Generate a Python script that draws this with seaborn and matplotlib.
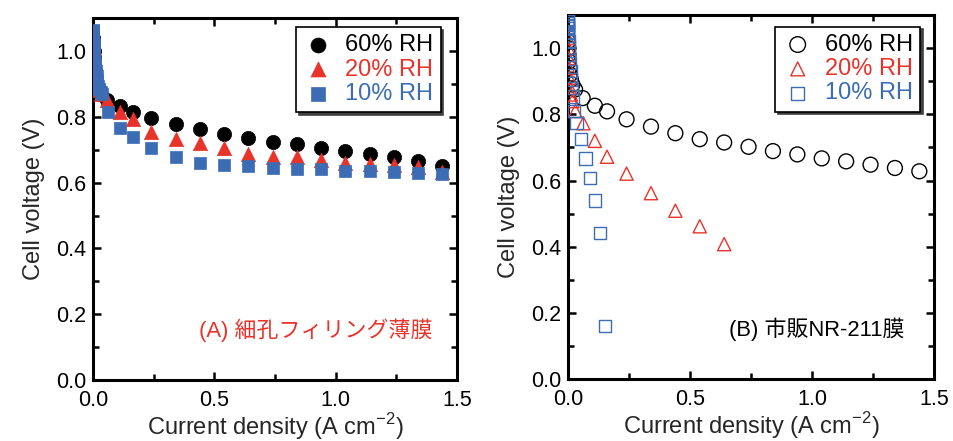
import numpy as np
import pandas as pd
import matplotlib
matplotlib.use("Agg")
import matplotlib.pyplot as plt
import seaborn as sns
from matplotlib.ticker import MultipleLocator

# ---------------- data ----------------
labels = ["60% RH", "20% RH", "10% RH"]
colors = ["#000000", "#E8332A", "#3C6DB4"]
markers = ["o", "^", "s"]

# Panel A: pore-filling thin membrane
A60_x = [0.0, 0.001, 0.002, 0.003, 0.005, 0.007, 0.010, 0.014, 0.019, 0.025, 0.032,
         0.056, 0.11, 0.164, 0.24, 0.34, 0.44, 0.54, 0.64, 0.74, 0.84, 0.94, 1.04, 1.14, 1.24, 1.34, 1.44]
A60_y = [1.04, 1.02, 1.0, 0.98, 0.96, 0.94, 0.92, 0.905, 0.89, 0.878, 0.868,
         0.851, 0.833, 0.816, 0.797, 0.777, 0.763, 0.748, 0.737, 0.722, 0.716, 0.706, 0.696, 0.687, 0.677, 0.667, 0.651]
A20_x = [0.0, 0.001, 0.002, 0.003, 0.005, 0.007, 0.010, 0.014, 0.019, 0.025, 0.032,
         0.056, 0.11, 0.164, 0.24, 0.34, 0.44, 0.54, 0.64, 0.74, 0.84, 0.94, 1.04, 1.14, 1.24, 1.34, 1.44]
A20_y = [1.05, 1.03, 1.01, 0.99, 0.97, 0.95, 0.93, 0.91, 0.895, 0.882, 0.87,
         0.850, 0.816, 0.792, 0.755, 0.733, 0.719, 0.704, 0.687, 0.679, 0.679, 0.669, 0.660, 0.657, 0.653, 0.648, 0.633]
A10_x = [0.0, 0.0, 0.0005, 0.001, 0.0015, 0.002, 0.003, 0.004, 0.005, 0.006, 0.008, 0.010, 0.012,
         0.015, 0.018, 0.022, 0.026, 0.031, 0.036,
         0.06, 0.11, 0.164, 0.24, 0.34, 0.44, 0.54, 0.64, 0.74, 0.84, 0.94, 1.04, 1.14, 1.24, 1.34, 1.44]
A10_y = [1.065, 1.06, 1.05, 1.04, 1.03, 1.02, 1.01, 1.0, 0.99, 0.98, 0.965, 0.95, 0.94,
         0.925, 0.91, 0.895, 0.885, 0.875, 0.868,
         0.816, 0.767, 0.740, 0.706, 0.679, 0.661, 0.653, 0.650, 0.646, 0.643, 0.640, 0.636, 0.635, 0.633, 0.630, 0.626]

# Panel B: commercial NR-211 membrane
B60_x = [0.0, 0.001, 0.002, 0.003, 0.005, 0.008, 0.012, 0.018, 0.029,
         0.06, 0.11, 0.16, 0.24, 0.34, 0.44, 0.54, 0.64, 0.74, 0.84, 0.94, 1.04, 1.14, 1.24, 1.34, 1.44]
B60_y = [1.02, 1.0, 0.98, 0.96, 0.94, 0.92, 0.905, 0.89, 0.875,
         0.849, 0.826, 0.809, 0.785, 0.763, 0.743, 0.725, 0.715, 0.702, 0.689, 0.679, 0.667, 0.658, 0.648, 0.638, 0.628]
B20_x = [0.0, 0.001, 0.002, 0.003, 0.005, 0.008, 0.012, 0.018, 0.030,
         0.063, 0.11, 0.16, 0.24, 0.34, 0.44, 0.54, 0.64]
B20_y = [1.03, 1.0, 0.97, 0.94, 0.91, 0.88, 0.86, 0.84, 0.81,
         0.773, 0.720, 0.672, 0.621, 0.562, 0.509, 0.462, 0.408]
B10_x = [0.0, 0.0, 0.0, 0.0, 0.0, 0.0, 0.001, 0.001, 0.001, 0.002, 0.003, 0.005, 0.007,
         0.010, 0.012, 0.015, 0.018, 0.026, 0.035, 0.053, 0.072, 0.090, 0.111, 0.131, 0.152]
B10_y = [1.085, 1.08, 1.075, 1.07, 1.065, 1.06, 1.05, 1.045, 1.037, 1.022, 1.0, 0.981, 0.956,
         0.93, 0.905, 0.88, 0.854, 0.811, 0.773, 0.725, 0.667, 0.608, 0.540, 0.441, 0.161]

x_ticks = [0.0, 0.5, 1.0, 1.5]
y_ticks = [0.0, 0.2, 0.4, 0.6, 0.8, 1.0]
xlabel = "Current density (A cm$^{\\mathregular{-2}}$)"
ylabel = "Cell voltage (V)"
textA = "(A) 細孔フィリング薄膜"
textB = "(B) 市販NR-211膜"

# ---------------- style ----------------
sns.set_style("ticks")
plt.rcParams["font.family"] = ["Liberation Sans", "Noto Sans CJK JP", "DejaVu Sans"]
plt.rcParams["mathtext.fontset"] = "custom"
plt.rcParams["mathtext.rm"] = "Liberation Sans"

fig = plt.figure(figsize=(9.54, 4.41), dpi=100)
axA = fig.add_axes([0.0975, 0.138, 0.3816, 0.821])
axB = fig.add_axes([0.5954, 0.140, 0.3836, 0.826])

def make_df(xs, ys):
    frames = []
    for lab, x, y in zip(labels, xs, ys):
        frames.append(pd.DataFrame({"j": x, "V": y, "RH": lab}))
    return pd.concat(frames, ignore_index=True)

dfA = make_df([A60_x, A20_x, A10_x], [A60_y, A20_y, A10_y])
dfB = make_df([B60_x, B20_x, B10_x], [B60_y, B20_y, B10_y])

sizes_filled = {"60% RH": 105, "20% RH": 105, "10% RH": 80}
sizes_open = {"60% RH": 115, "20% RH": 90, "10% RH": 78}

for lab, c, m in zip(labels, colors, markers):
    sub = dfA[dfA["RH"] == lab]
    sns.scatterplot(data=sub, x="j", y="V", ax=axA, marker=m, s=sizes_filled[lab],
                    color=c, edgecolor=c, linewidth=0.5, label=lab, zorder=3)
    sub = dfB[dfB["RH"] == lab]
    sns.scatterplot(data=sub, x="j", y="V", ax=axB, marker=m, s=sizes_open[lab],
                    facecolor="none", edgecolor=c, linewidth=1.0, label=lab, zorder=3)

for ax, anchor in ((axA, (0.955, 0.975)), (axB, (0.962, 0.968))):
    ax.set_xlim(0, 1.5)
    ax.set_ylim(0, 1.1)
    ax.set_xticks(x_ticks)
    ax.set_yticks(y_ticks)
    ax.set_xticklabels([f"{v:.1f}" for v in x_ticks])
    ax.set_yticklabels([f"{v:.1f}" for v in y_ticks])
    ax.xaxis.set_minor_locator(MultipleLocator(0.25))
    ax.yaxis.set_minor_locator(MultipleLocator(0.1))
    ax.tick_params(which="both", direction="in", top=True, right=True, width=1.8,
                   labelsize=15.5, color="black", labelcolor="black")
    ax.tick_params(axis="x", which="both", pad=7)
    ax.tick_params(axis="y", which="both", pad=5)
    ax.tick_params(which="major", length=6)
    ax.tick_params(which="minor", length=4)
    for sp in ax.spines.values():
        sp.set_linewidth(2.2)
        sp.set_color("black")
        sp.set_visible(True)
    ax.set_xlabel(xlabel, fontsize=17, labelpad=0)
    ax.set_ylabel(ylabel, fontsize=17, labelpad=8)
    leg = ax.legend(loc="upper right", bbox_to_anchor=anchor, borderaxespad=0,
                    frameon=True, fancybox=False, shadow={"color": "0.25", "alpha": 1},
                    edgecolor="black", framealpha=1, fontsize=17, handletextpad=0.5,
                    labelspacing=0.1, borderpad=0.3, handlelength=1.3, markerscale=1.05)
    leg.get_frame().set_linewidth(1.2)
    for t, c in zip(leg.get_texts(), colors):
        t.set_color(c)

axA.text(1.40, 0.152, textA, color="#E8332A", fontsize=15.8, ha="right", va="center")
axB.text(1.38, 0.152, textB, color="black", fontsize=15.8, ha="right", va="center")

fig.savefig("out.png", dpi=100)
